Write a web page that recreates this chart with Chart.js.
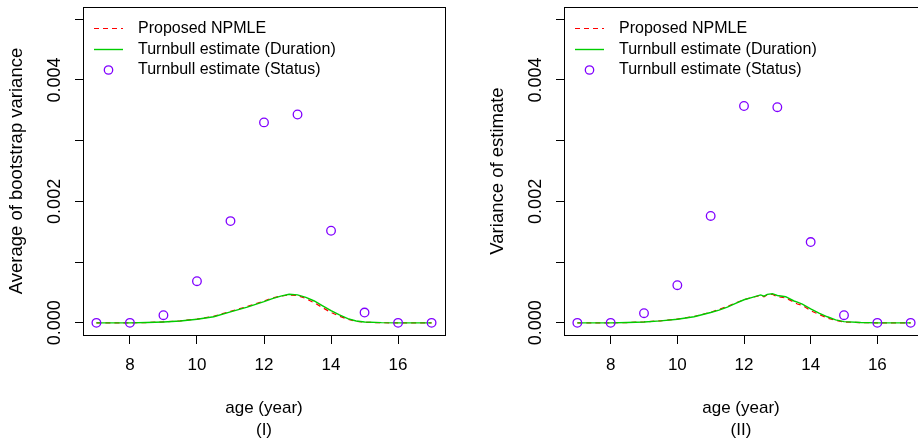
<!DOCTYPE html>
<html>
<head>
<meta charset="utf-8">
<script src="https://cdn.jsdelivr.net/npm/chart.js@4"></script>
<style>
  html, body { margin: 0; padding: 0; background: #fff; overflow: hidden; width: 918px; height: 441px; }
  .panel { position: absolute; top: 0; }
</style>
</head>
<body>
<div class="panel" style="left:0"><canvas id="chartI" width="460" height="441"></canvas></div>
<div class="panel" style="left:460px"><canvas id="chartII" width="470" height="441"></canvas></div>
<script>
// ages where the Turnbull (status) estimate is evaluated
const ages = [7, 8, 9, 10, 11, 12, 13, 14, 15, 16, 17];
const statusI = [0, 0, 0.000126, 0.000686, 0.001675, 0.0033, 0.00343, 0.001516, 0.00017, 0, 0];
const statusII = [0, 0, 0.000159, 0.00062, 0.00176, 0.00357, 0.00355, 0.00133, 0.000126, 0, 0];

// smooth curves
const curveAgesI = [7, 8, 8.5, 9, 9.5, 10, 10.5, 11, 11.5, 12, 12.25, 12.5, 12.75, 13, 13.25, 13.5, 13.75, 14, 14.25, 14.5, 14.75, 15, 15.5, 16, 17];
const npmleI =    [0, 0, 0.000005, 0.000016, 0.000033, 0.000062, 0.000108, 0.00019, 0.00027, 0.00036, 0.00041, 0.00044, 0.00046, 0.00045, 0.0004, 0.00033, 0.00025, 0.00017, 0.00011, 0.00006, 0.000025, 0.00001, 0.000002, 0, 0];
const durationI = [0, 0, 0.000005, 0.000015, 0.00003, 0.00006, 0.0001, 0.00018, 0.00026, 0.00035, 0.0004, 0.00044, 0.00047, 0.00046, 0.00042, 0.00036, 0.00028, 0.0002, 0.00013, 0.00007, 0.00003, 0.000015, 0.000003, 0, 0];

const curveAgesII = [7, 8, 8.5, 9, 9.5, 10, 10.5, 11, 11.25, 11.5, 11.75, 12, 12.25, 12.5, 12.6, 12.7, 12.85, 13, 13.25, 13.5, 13.6, 13.75, 14, 14.25, 14.5, 14.75, 15, 15.5, 16, 17];
const npmleII =    [0, 0, 0.000005, 0.000016, 0.000034, 0.000062, 0.000105, 0.000175, 0.00022, 0.00027, 0.00033, 0.00038, 0.00042, 0.00045, 0.00043, 0.00046, 0.00047, 0.00043, 0.00041, 0.00034, 0.00031, 0.00029, 0.0002, 0.00014, 0.00008, 0.00004, 0.000015, 0.000003, 0, 0];
const durationII = [0, 0, 0.000005, 0.000015, 0.000032, 0.00006, 0.0001, 0.00017, 0.00021, 0.00026, 0.00032, 0.00038, 0.00042, 0.00046, 0.00044, 0.00047, 0.00048, 0.00045, 0.00043, 0.00036, 0.00034, 0.00031, 0.00023, 0.00016, 0.0001, 0.00005, 0.00002, 0.000005, 0, 0];

const xTicks = [8, 10, 12, 14, 16];
const yTicks = [0, 0.001, 0.002, 0.003, 0.004, 0.005];
const yLabels = [0, 0.002, 0.004];

const FONT = '"Liberation Sans", Arial, Helvetica, sans-serif';
const RED = '#ff0000', GREEN = '#00cd00', PURPLE = '#8000ff';

function pts(xs, ys) { return xs.map((x, i) => ({ x, y: ys[i] })); }

// R-style box, rotated y labels, axis titles and legend
const rStyle = {
  id: 'rStyle',
  afterDraw(chart, args, opts) {
    const { ctx, chartArea: a, scales } = chart;
    ctx.save();
    ctx.strokeStyle = '#000';
    ctx.lineWidth = 1;
    ctx.strokeRect(Math.round(a.left) + 0.5, Math.round(a.top) + 0.5, Math.round(a.right - a.left), Math.round(a.bottom - a.top));

    ctx.fillStyle = '#000';
    ctx.font = '18px ' + FONT;
    ctx.textAlign = 'center';
    ctx.textBaseline = 'middle';
    yLabels.forEach(v => {
      const y = scales.y.getPixelForValue(v);
      ctx.save();
      ctx.translate(a.left - 28, y);
      ctx.rotate(-Math.PI / 2);
      ctx.fillText(v.toFixed(3), 0, 0);
      ctx.restore();
    });
    ctx.font = '18.5px ' + FONT;
    ctx.save();
    ctx.translate(a.left - 66, (a.top + a.bottom) / 2);
    ctx.rotate(-Math.PI / 2);
    ctx.fillText(opts.yTitle, 0, 0);
    ctx.restore();

    ctx.font = '17px ' + FONT;
    const cx = opts.centerX != null ? opts.centerX : (a.left + a.right) / 2;
    ctx.fillText('age (year)', cx, 408);
    ctx.fillText(opts.tag, cx, 430);

    // legend
    ctx.font = '16px ' + FONT;
    ctx.textAlign = 'left';
    const rows = [28.5, 49.5, 70];
    chart.data.datasets.forEach((ds, i) => {
      const y = rows[i];
      const x0 = a.left + 11;
      if (ds.showLine) {
        ctx.save();
        ctx.strokeStyle = ds.borderColor;
        ctx.lineWidth = ds.borderWidth;
        ctx.setLineDash(ds.borderDash || []);
        ctx.beginPath();
        ctx.moveTo(x0, y);
        ctx.lineTo(x0 + 29, y);
        ctx.stroke();
        ctx.restore();
      } else {
        ctx.save();
        ctx.strokeStyle = ds.borderColor;
        ctx.lineWidth = 1.3;
        ctx.beginPath();
        ctx.arc(x0 + 14.5, y, 4.2, 0, Math.PI * 2);
        ctx.stroke();
        ctx.restore();
      }
      ctx.fillStyle = '#000';
      ctx.fillText(ds.label, a.left + 55, y);
    });
    ctx.restore();
  }
};

function makeChart(id, npmleAges, npmle, duration, status, yTitle, tag, leftW, padRight, centerX) {
  return new Chart(document.getElementById(id), {
    type: 'scatter',
    data: {
      datasets: [
        { label: 'Proposed NPMLE', data: pts(npmleAges, npmle), showLine: true, borderColor: RED, borderWidth: 1.2, borderDash: [5, 4], pointRadius: 0, order: 3 },
        { label: 'Turnbull estimate (Duration)', data: pts(npmleAges, duration), showLine: true, borderColor: GREEN, borderWidth: 1.4, pointRadius: 0, order: 2 },
        { label: 'Turnbull estimate (Status)', data: pts(ages, status), showLine: false, borderColor: PURPLE, backgroundColor: 'rgba(0,0,0,0)', pointRadius: 4.3, pointBorderWidth: 1.3, order: 1 },
      ],
    },
    options: {
      responsive: false,
      animation: false,
      devicePixelRatio: 1,
      layout: { padding: { top: 7, right: padRight, left: 0, bottom: 0 } },
      plugins: { legend: { display: false }, tooltip: { enabled: false }, rStyle: { yTitle, tag, centerX } },
      scales: {
        x: {
          type: 'linear', min: 6.6, max: 17.4,
          afterBuildTicks: s => { s.ticks = xTicks.map(v => ({ value: v })); },
          afterFit: s => { s.height = 106; },
          border: { display: false },
          grid: { drawOnChartArea: false, drawTicks: true, tickLength: 9, color: '#000', lineWidth: 1 },
          ticks: { color: '#000', font: { family: FONT, size: 17 }, padding: 11, maxRotation: 0, autoSkip: false },
        },
        y: {
          type: 'linear', min: -0.0002, max: 0.0052,
          afterBuildTicks: s => { s.ticks = yTicks.map(v => ({ value: v })); },
          afterFit: s => { s.width = leftW; },
          border: { display: false },
          grid: { drawOnChartArea: false, drawTicks: true, tickLength: 8, color: '#000', lineWidth: 1 },
          ticks: { display: false },
        },
      },
    },
    plugins: [rStyle],
  });
}

makeChart('chartI', curveAgesI, npmleI, durationI, statusI, 'Average of bootstrap variance', '(I)', 83, 15, null);
makeChart('chartII', curveAgesII, npmleII, durationII, statusII, 'Variance of estimate', '(II)', 104, 6, 281);
</script>
</body>
</html>
